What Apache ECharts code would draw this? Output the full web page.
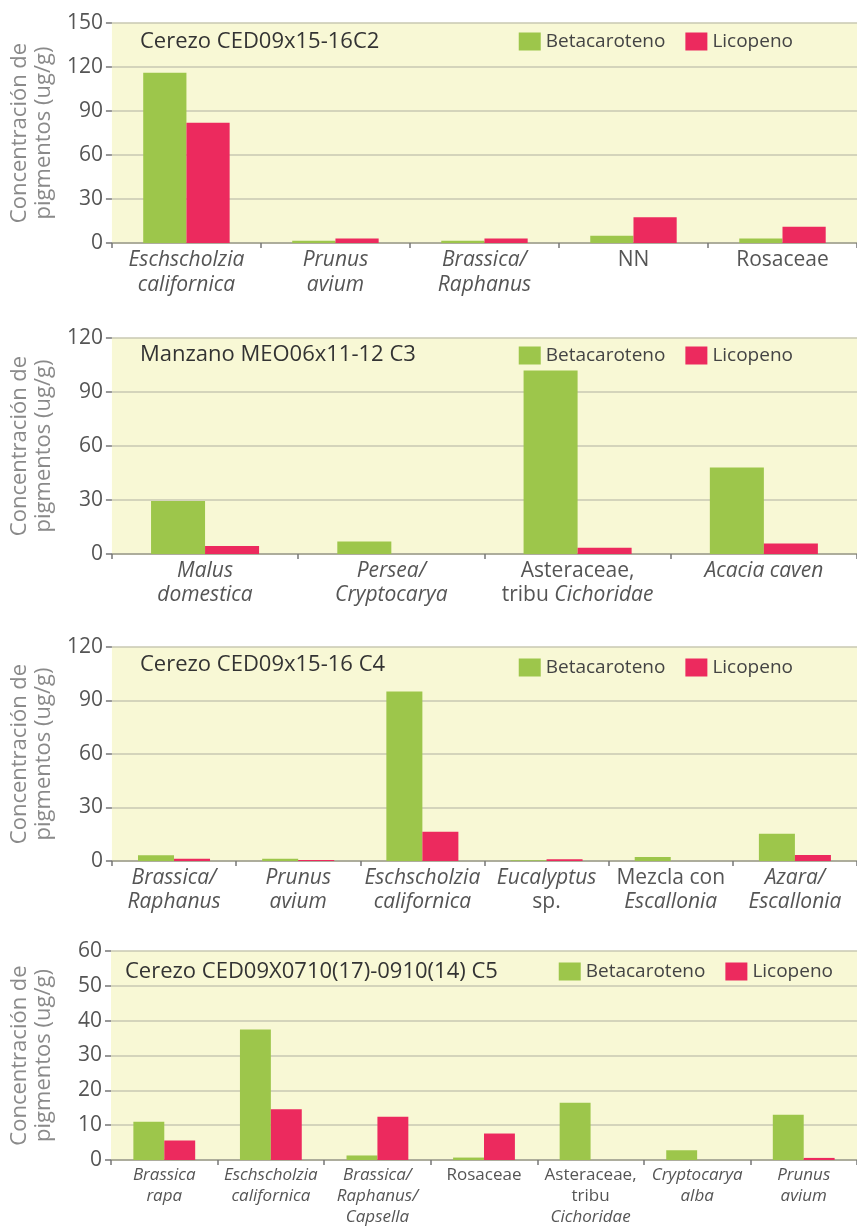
<!DOCTYPE html>
<html>
<head>
<meta charset="utf-8">
<script src="https://cdn.jsdelivr.net/npm/echarts@6/dist/echarts.min.js"></script>
<style>
  html, body { margin: 0; padding: 0; background: #ffffff; }
  #chart { width: 857px; height: 1227px; }
</style>
</head>
<body>
<div id="chart"></div>
<script>
// Pigment concentration (ug/g) per pollen type, four samples
const titles = [
  'Cerezo CED09x15-16C2',
  'Manzano MEO06x11-12 C3',
  'Cerezo CED09x15-16 C4',
  'Cerezo CED09X0710(17)-0910(14) C5'
];
const seriesNames = ['Betacaroteno', 'Licopeno'];

const cats1 = ['Eschscholzia\ncalifornica', 'Prunus\navium', 'Brassica/\nRaphanus', 'NN', 'Rosaceae'];
const beta1 = [116, 1.5, 1.5, 5, 3];
const lico1 = [82, 3, 3, 17.5, 11];
const yTicks1 = [0, 30, 60, 90, 120, 150];

const cats2 = ['Malus\ndomestica', 'Persea/\nCryptocarya', 'Asteraceae,\ntribu Cichoridae', 'Acacia caven'];
const beta2 = [29.5, 7, 102, 48];
const lico2 = [4.5, 0, 3.5, 5.8];
const yTicks2 = [0, 30, 60, 90, 120];

const cats3 = ['Brassica/\nRaphanus', 'Prunus\navium', 'Eschscholzia\ncalifornica', 'Eucalyptus\nsp.', 'Mezcla con\nEscallonia', 'Azara/\nEscallonia'];
const beta3 = [3.2, 1.3, 95, 0.4, 2.2, 15.3];
const lico3 = [1.2, 0.6, 16.4, 1, 0, 3.4];
const yTicks3 = [0, 30, 60, 90, 120];

const cats4 = ['Brassica\nrapa', 'Eschscholzia\ncalifornica', 'Brassica/\nRaphanus/\nCapsella', 'Rosaceae', 'Asteraceae,\ntribu\nCichoridae', 'Cryptocarya\nalba', 'Prunus\navium'];
const beta4 = [11, 37.5, 1.3, 0.7, 16.4, 2.8, 13];
const lico4 = [5.6, 14.6, 12.4, 7.6, 0, 0, 0.6];
const yTicks4 = [0, 10, 20, 30, 40, 50, 60];

// Words set upright; every other word of a taxon name is set in italics
const uprightWords = ['NN', 'Rosaceae', 'Asteraceae,', 'tribu', 'Mezcla', 'con', 'sp.'];

const GREEN = '#9dc64b';
const PINK = '#ec2a5e';
const FONT = '"Open Sans", "DejaVu Sans", sans-serif';

const panels = [
  { cats: cats1, beta: beta1, lico: lico1, ticks: yTicks1, top: 23, height: 220, fs: 21, lh: 25, titleLeft: 135, titleTop: 26, legendTop: 27, legendRight: 59 },
  { cats: cats2, beta: beta2, lico: lico2, ticks: yTicks2, top: 338, height: 216, fs: 21, lh: 24, titleLeft: 135, titleTop: 339, legendTop: 341, legendRight: 59 },
  { cats: cats3, beta: beta3, lico: lico3, ticks: yTicks3, top: 647, height: 214, fs: 21, lh: 24, titleLeft: 135, titleTop: 649, legendTop: 653, legendRight: 59 },
  { cats: cats4, beta: beta4, lico: lico4, ticks: yTicks4, top: 951, height: 209, fs: 17, lh: 21, titleLeft: 120, titleTop: 956, legendTop: 957, legendRight: 19 }
];

function richLabel(value) {
  return value.split('\n').map(function (line) {
    return line.split(' ').map(function (w) {
      return (uprightWords.indexOf(w) >= 0 ? '{n|' : '{i|') + w + '}';
    }).join('{n| }');
  }).join('\n');
}

const grid = [], xAxis = [], yAxis = [], series = [], title = [], legend = [];

panels.forEach(function (p, k) {
  grid.push({
    left: 110, right: 0, top: p.top, height: p.height,
    show: true, backgroundColor: '#f8f8d5', borderWidth: 0
  });
  xAxis.push({
    type: 'category', gridIndex: k, data: p.cats,
    axisLine: { show: true, lineStyle: { color: '#a0a090', width: 1.5 } },
    axisTick: { show: true, length: 5, lineStyle: { color: '#777', width: 1.5 } },
    axisLabel: {
      interval: 0, margin: 5, color: '#555',
      formatter: richLabel,
      rich: {
        i: { fontStyle: 'italic', fontSize: p.fs, fontFamily: FONT, color: '#555', lineHeight: p.lh },
        n: { fontStyle: 'normal', fontSize: p.fs, fontFamily: FONT, color: '#555', lineHeight: p.lh }
      }
    }
  });
  const step = p.ticks[1] - p.ticks[0];
  yAxis.push({
    type: 'value', gridIndex: k,
    min: p.ticks[0], max: p.ticks[p.ticks.length - 1], interval: step,
    name: 'Concentración de\npigmentos (ug/g)',
    nameLocation: 'middle', nameRotate: 90, nameGap: 55,
    nameTextStyle: { color: '#8a8a8a', fontSize: 22, fontFamily: FONT, lineHeight: 24 },
    axisLine: { show: false },
    axisTick: { show: true, length: 6, lineStyle: { color: '#777', width: 1.5 } },
    axisLabel: { color: '#555', fontSize: 21, fontFamily: FONT, margin: 9 },
    splitLine: { show: true, lineStyle: { color: '#c8c8b2', width: 1.5 } }
  });
  series.push({
    name: seriesNames[0], type: 'bar', xAxisIndex: k, yAxisIndex: k,
    data: p.beta, itemStyle: { color: GREEN },
    barGap: '0%', barCategoryGap: '42%'
  });
  series.push({
    name: seriesNames[1], type: 'bar', xAxisIndex: k, yAxisIndex: k,
    data: p.lico, itemStyle: { color: PINK },
    barGap: '0%', barCategoryGap: '42%'
  });
  title.push({
    text: titles[k], left: p.titleLeft, top: p.titleTop,
    textStyle: { color: '#333', fontSize: 22, fontWeight: 'normal', fontFamily: FONT }
  });
  legend.push({
    data: seriesNames, right: p.legendRight, top: p.legendTop,
    itemWidth: 22, itemHeight: 18, itemGap: 20, icon: 'rect',
    textStyle: { color: '#444', fontSize: 19, fontFamily: FONT },
    selectedMode: false
  });
});

const chart = echarts.init(document.getElementById('chart'), null, { renderer: 'canvas' });
chart.setOption({
  backgroundColor: '#ffffff',
  animation: false,
  title: title,
  legend: legend,
  grid: grid,
  xAxis: xAxis,
  yAxis: yAxis,
  series: series
});
</script>
</body>
</html>
